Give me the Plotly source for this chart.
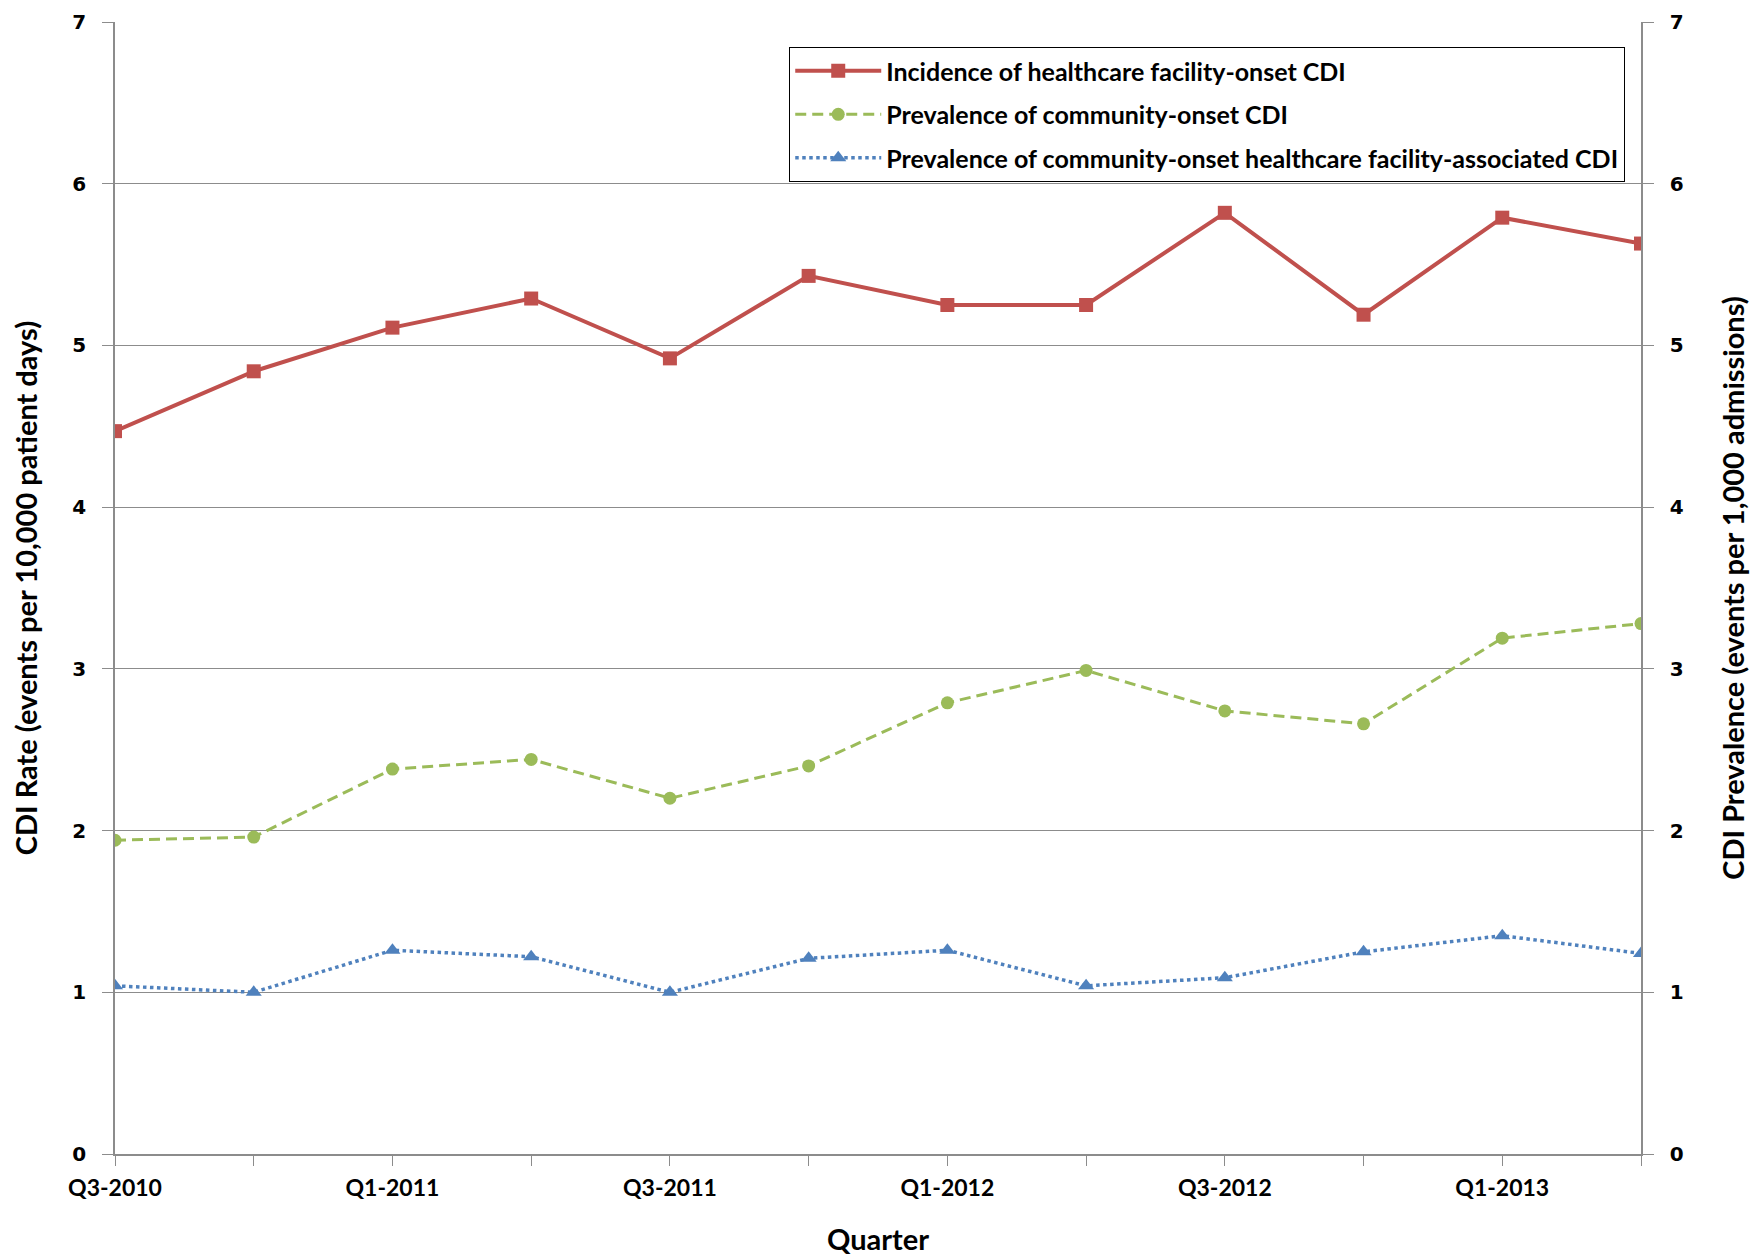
import plotly.graph_objects as go

quarters = ["Q3-2010", "Q4-2010", "Q1-2011", "Q2-2011", "Q3-2011", "Q4-2011",
            "Q1-2012", "Q2-2012", "Q3-2012", "Q4-2012", "Q1-2013", "Q2-2013"]
tick_labels = ["Q3-2010", "", "Q1-2011", "", "Q3-2011", "", "Q1-2012", "",
               "Q3-2012", "", "Q1-2013", ""]
incidence_hfo = [4.47, 4.84, 5.11, 5.29, 4.92, 5.43, 5.25, 5.25, 5.82, 5.19, 5.79, 5.63]
prevalence_co = [1.94, 1.96, 2.38, 2.44, 2.20, 2.40, 2.79, 2.99, 2.74, 2.66, 3.19, 3.28]
prevalence_cohfa = [1.04, 1.00, 1.26, 1.22, 1.00, 1.21, 1.26, 1.04, 1.09, 1.25, 1.35, 1.24]

RED = "#C0504D"
GREEN = "#9BBB59"
BLUE = "#4F81BD"
GRID = "#8C8C8C"
FONT = "Lato, Roboto, Arial, sans-serif"
NUMFONT = "DejaVu Sans, Verdana, sans-serif"

xidx = list(range(len(quarters)))

fig = go.Figure()
fig.add_trace(go.Scatter(
    x=xidx, y=incidence_hfo, name="Incidence of healthcare facility-onset CDI",
    mode="lines+markers", legendgroup="a",
    line=dict(color=RED, width=4),
    marker=dict(symbol="square", size=14, color=RED),
))
fig.add_trace(go.Scatter(
    x=xidx, y=prevalence_co, name="Prevalence of community-onset CDI",
    mode="lines+markers", yaxis="y2", legendgroup="b",
    line=dict(color=GREEN, width=3, dash="11px,6px"),
    marker=dict(symbol="circle", size=13, color=GREEN),
))
fig.add_trace(go.Scatter(
    x=xidx, y=prevalence_cohfa,
    name="Prevalence of community-onset healthcare facility-associated CDI",
    mode="lines+markers", yaxis="y2", legendgroup="c",
    line=dict(color=BLUE, width=3.5, dash="dot"),
    marker=dict(symbol="triangle-up", size=14, color=BLUE),
))

fig.update_layout(
    width=1754, height=1248,
    margin=dict(l=107, r=121, t=14, b=102),
    plot_bgcolor="white", paper_bgcolor="white",
    font=dict(family=FONT, color="black"),
    xaxis=dict(
        tickmode="array", tickvals=xidx, ticktext=tick_labels,
        range=[0, len(quarters) - 1], automargin=False,
        showgrid=False, showline=True, linecolor=GRID, linewidth=1.5,
        ticks="outside", ticklen=10, tickcolor=GRID, ticklabelstandoff=3,
        tickfont=dict(family=FONT, size=23, color="black", weight="bold"),
        title=dict(text="<b>Quarter</b>", font=dict(family=FONT, size=29), standoff=36),
        zeroline=False,
    ),
    yaxis=dict(
        range=[0, 7], dtick=1, showgrid=True, gridcolor=GRID, gridwidth=1,
        showline=True, linecolor=GRID, linewidth=1.5, automargin=False,
        ticks="outside", ticklen=11, tickcolor=GRID, ticklabelstandoff=12,
        ticklabeloverflow="allow",
        tickfont=dict(family=NUMFONT, size=20, color="black", weight="bold"),
        title=dict(text="<b>CDI Rate (events per 10,000 patient days)</b>",
                   font=dict(family=FONT, size=29), standoff=27),
        zeroline=False,
    ),
    yaxis2=dict(
        range=[0, 7], dtick=1, overlaying="y", side="right",
        showgrid=False, showline=True, linecolor=GRID, linewidth=1.5, automargin=False,
        ticks="outside", ticklen=11, tickcolor=GRID, ticklabelstandoff=12,
        ticklabeloverflow="allow",
        tickfont=dict(family=NUMFONT, size=20, color="black", weight="bold"),
        title=dict(text="<b>CDI Prevalence (events per 1,000 admissions)</b>",
                   font=dict(family=FONT, size=29), standoff=41),
        zeroline=False,
    ),
    legend=dict(
        x=0.4417, y=0.978, xanchor="left", yanchor="top",
        bgcolor="white", bordercolor="black", borderwidth=1.2,
        font=dict(family=FONT, size=25, color="black", weight="bold"),
        traceorder="grouped", tracegroupgap=8, itemwidth=86,
    ),
    showlegend=True,
)

fig.write_html("out.html")
